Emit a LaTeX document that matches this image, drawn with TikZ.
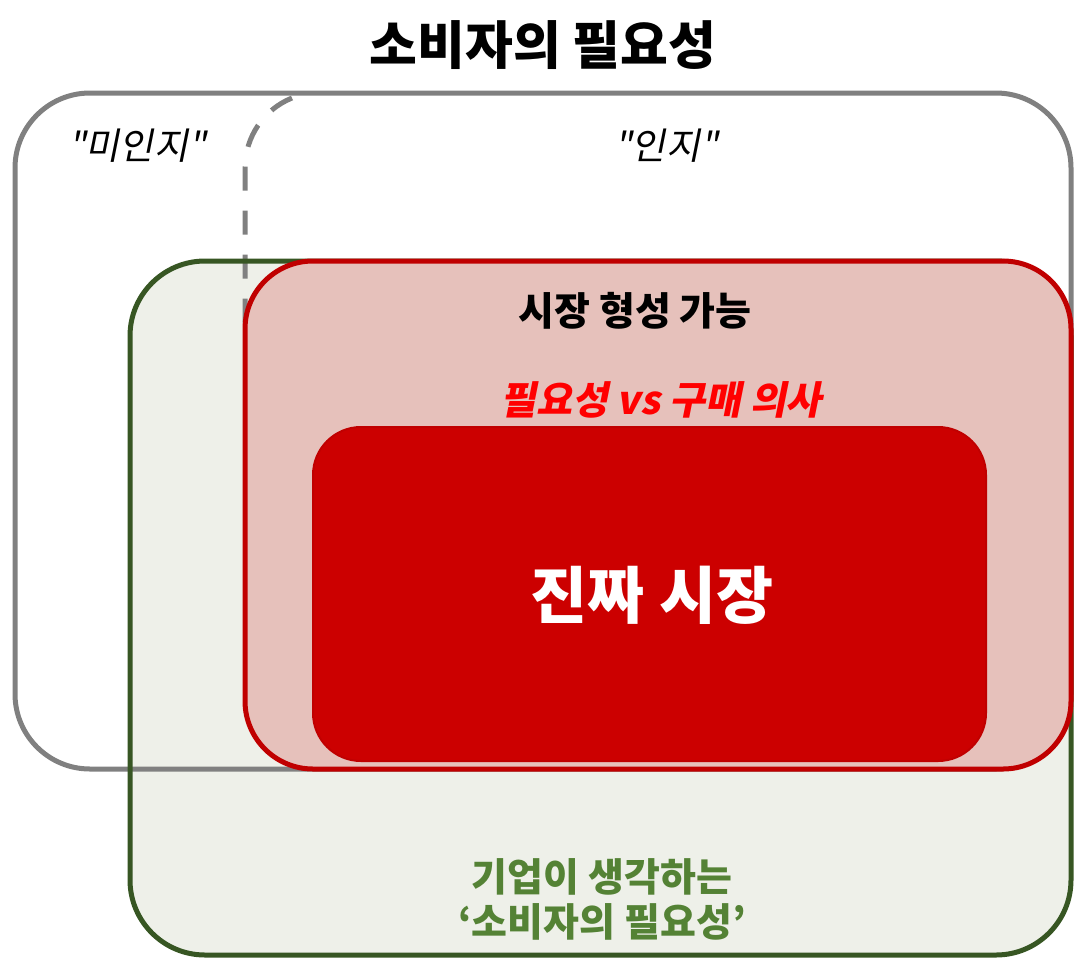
\documentclass[tikz,border=0pt]{standalone}
\usepackage{fontspec}
\setmainfont{Noto Sans CJK KR}
\newfontfamily\krslant{Noto Sans CJK KR}[FakeSlant=0.2]

\definecolor{needgray}{HTML}{808080}
\definecolor{firmgreen}{HTML}{375623}
\definecolor{firmfill}{HTML}{EEF0E9}
\definecolor{firmtext}{HTML}{548235}
\definecolor{mktred}{HTML}{C00000}
\definecolor{mktpink}{HTML}{E6C1BB}
\definecolor{corered}{HTML}{CC0000}

\begin{document}
\begin{tikzpicture}[x=1pt,y=-1pt,
  box/.style={line width=5pt,rounded corners=75pt},
  lbl/.style={font=\fontsize{39}{45}\selectfont\bfseries}]
\useasboundingbox (0,0) rectangle (1076,967);

\fill[firmfill,rounded corners=75pt] (130,261) rectangle (1071,955);
\draw[box,draw=needgray] (15,93) rectangle (1071,769);
\draw[line width=5pt,needgray,dash pattern=on 24pt off 20pt] (292,98) arc[start angle=-112,end angle=-180,radius=75] -- (245,330);
\draw[box,draw=firmgreen] (130,261) rectangle (1071,955);

\draw[line width=5pt,rounded corners=68pt,draw=mktred,fill=mktpink] (245,261) rectangle (1071,769);
\draw[line width=2pt,rounded corners=48pt,draw=mktred,fill=corered] (313,427) rectangle (986,761);

\node[font=\fontsize{52}{60}\selectfont\bfseries] (title) at (543,45) {소비자의 필요성};
\node[font=\fontsize{37}{42}\selectfont\krslant] (unaware) at (137,146) {"미인지"};
\node[font=\fontsize{37}{42}\selectfont\krslant] (aware) at (666,146) {"인지"};

\node[lbl] (possible) at (635,311) {시장 형성 가능};
\node[red,font=\fontsize{39}{45}\selectfont\krslant\bfseries] (need) at (661,400) {필요성 vs 구매 의사};
\node[font=\fontsize{62}{70}\selectfont\bfseries,white] (real) at (652,595) {진짜 시장};
\node[lbl,firmtext,align=center] (firm) at (602,899) {기업이 생각하는\\‘소비자의 필요성’};
\end{tikzpicture}
\end{document}
